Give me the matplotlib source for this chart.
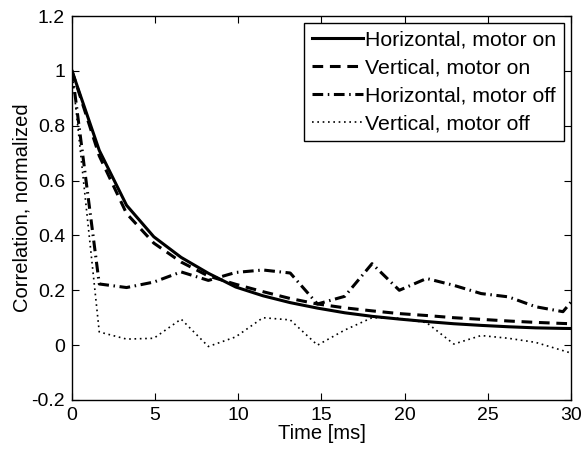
import matplotlib
matplotlib.use("Agg")
import matplotlib.pyplot as plt
import numpy as np

plt.rcParams['font.family'] = ['Liberation Sans', 'DejaVu Sans']

# sample times (ms), one sample every 1.64 ms
t = np.arange(20) * 1.64

h_on = [1.0, 0.71, 0.51, 0.395, 0.32, 0.262, 0.212, 0.18, 0.155, 0.135,
        0.118, 0.105, 0.095, 0.086, 0.078, 0.072, 0.067, 0.063, 0.061, 0.06]
v_on = [1.0, 0.69, 0.48, 0.372, 0.303, 0.252, 0.222, 0.195, 0.17, 0.15,
        0.136, 0.125, 0.115, 0.108, 0.1, 0.094, 0.088, 0.083, 0.079, 0.076]
h_off = [1.0, 0.223, 0.21, 0.23, 0.267, 0.236, 0.265, 0.274, 0.263, 0.15,
         0.178, 0.297, 0.2, 0.243, 0.218, 0.188, 0.176, 0.14, 0.122, 0.24]
v_off = [1.0, 0.048, 0.022, 0.025, 0.095, -0.005, 0.03, 0.1, 0.092, 0.0,
         0.055, 0.1, 0.098, 0.082, 0.004, 0.035, 0.025, 0.01, -0.02, -0.05]

labels = ['Horizontal, motor on', 'Vertical, motor on',
          'Horizontal, motor off', 'Vertical, motor off']

fig = plt.figure(figsize=(5.82, 4.55), dpi=100)
ax = fig.add_axes([0.1237, 0.1209, 0.8573, 0.8439])

ax.plot(t, h_on, color='k', lw=2.2, ls='-', label=labels[0])
ax.plot(t, v_on, color='k', lw=2.2, ls=(0, (3.5, 2.2)), label=labels[1])
ax.plot(t, h_off, color='k', lw=2.2, ls=(0, (3.5, 1.5, 0.5, 1.5)), label=labels[2])
ax.plot(t, v_off, color='k', lw=1.2, ls=(0, (1, 2.2)), label=labels[3])

ax.set_xlim(0, 30)
ax.set_ylim(-0.2, 1.2)
ax.set_xticks([0, 5, 10, 15, 20, 25, 30])
yt = [-0.2, 0, 0.2, 0.4, 0.6, 0.8, 1.0, 1.2]
ax.set_yticks(yt)
ax.set_yticklabels(['-0.2', '0', '0.2', '0.4', '0.6', '0.8', '1', '1.2'])
ax.tick_params(direction='in', top=True, right=True, length=5, width=0.8,
               labelsize=14, pad=5)
for s in ax.spines.values():
    s.set_linewidth(1.0)

ax.set_xlabel('Time [ms]', fontsize=14.5, labelpad=0)
ax.set_ylabel('Correlation, normalized', fontsize=14.5)
ax.yaxis.set_label_coords(-0.082, 0.5)

leg = ax.legend(loc='upper right', fontsize=15.3, frameon=True, fancybox=False,
                edgecolor='k', framealpha=1, handlelength=2.4, handletextpad=0.1,
                borderpad=0.35, labelspacing=0.42, borderaxespad=0.35)
leg.get_frame().set_linewidth(1.0)

fig.savefig('out.png', dpi=100)
